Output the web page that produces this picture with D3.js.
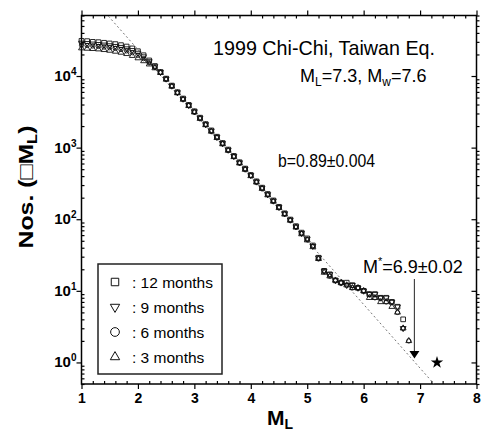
<!DOCTYPE html>
<html>
<head>
<meta charset="utf-8">
<script src="https://cdn.jsdelivr.net/npm/d3@7"></script>
<style>
body { margin: 0; background: #fff; }
svg { display: block; font-family: "Liberation Sans", Arial, sans-serif; }
.axis path, .axis line { stroke: #000; stroke-width: 1.2; }
</style>
</head>
<body>
<div class="gr-plot"></div>
<script>
// magnitude bins (M_L) shared by all catalogues
var magnitudes = [
	1.0, 1.1, 1.2, 1.3, 1.4, 1.5, 1.6, 1.7, 1.8, 1.9,
	2.0, 2.1, 2.2, 2.3, 2.4, 2.5, 2.6, 2.7, 2.8, 2.9,
	3.0, 3.1, 3.2, 3.3, 3.4, 3.5, 3.6, 3.7, 3.8, 3.9,
	4.0, 4.1, 4.2, 4.3, 4.4, 4.5, 4.6, 4.7, 4.8, 4.9,
	5.0, 5.1, 5.2, 5.3, 5.4, 5.5, 5.6, 5.7, 5.8, 5.9,
	6.0, 6.1, 6.2, 6.3, 6.4, 6.5, 6.6, 6.7, 6.8
]

// cumulative numbers N(>=M) for each time window
var months12 = [
	31000, 30700, 30000, 29700, 29100, 28500, 27900, 27000, 25800, 24300,
	22200, 19500, 16500, 13800, 11400, 9200, 7350, 5950, 4850, 3950,
	3220, 2620, 2130, 1740, 1420, 1160, 940, 765, 625, 510,
	415, 338, 276, 225, 183, 149, 121, 99, 80, 65,
	54, 43, 29, 19, 17, 14, 13, 13, 12, 11,
	10, 9, 9, 8, 8, 7, 6, 4
]
var months9 = [
	29000, 28700, 28200, 27800, 27300, 26700, 26100, 25300, 24200, 22900,
	21000, 18700, 16000, 13600, 11300, 9150, 7300, 5900, 4800, 3910,
	3190, 2600, 2110, 1720, 1400, 1150, 930, 758, 618, 505,
	411, 334, 273, 222, 181, 147, 120, 98, 79, 64,
	53, 42, 29, 19, 17, 14, 13, 12, 12, 11,
	10, 9, 9, 8, 8, 7, 6, 3
]
var months6 = [
	27000, 26700, 26300, 25900, 25400, 24900, 24300, 23500, 22500, 21200,
	19500, 17500, 15300, 13200, 11200, 9050, 7220, 5840, 4750, 3870,
	3150, 2570, 2090, 1700, 1390, 1130, 920, 750, 612, 500,
	407, 331, 270, 220, 179, 146, 119, 97, 78, 63,
	52, 42, 28, 19, 16, 14, 13, 12, 11, 11,
	10, 9, 8, 8, 7, 7, 5, 3, 2
]
var months3 = [
	24500, 24200, 24000, 23700, 23200, 22700, 22000, 21300, 20400, 19200,
	17800, 16200, 14600, 12900, 11100, 8950, 7150, 5780, 4700, 3830,
	3120, 2540, 2070, 1680, 1370, 1120, 910, 742, 605, 494,
	402, 328, 267, 217, 177, 144, 117, 96, 77, 62,
	51, 41, 28, 18, 16, 14, 13, 12, 11, 11,
	10, 8, 8, 7, 7, 6, 5, 3, 2
]
var seriesLabels = [': 12 months', ': 9 months', ': 6 months', ': 3 months']

// Gutenberg-Richter fit: log N = a - b M
var fitA = 6.15
var fitB = 0.89
var mStar = 6.9
var mainShock = [7.3, 1]

var xTicks = [1, 2, 3, 4, 5, 6, 7, 8]
var yTicks = [1, 10, 100, 1000, 10000]

window.onload = function() {

var width = 486, height = 433
var left = 81.5, right = 476.5, top = 15.5, bottom = 384

var svg = d3.select('.gr-plot')
	.append('svg')
	.attr('width', width)
	.attr('height', height)

var x = d3.scaleLinear().domain([1, 8]).range([left, right])
var y = d3.scaleLog().domain([0.5, 70000]).range([bottom, top])

// minor ticks
var xMinor = d3.range(1, 8.001, 0.2).filter(function(d) { return Math.abs(d - Math.round(d)) > 0.01 })
var yMinor = []
yTicks.forEach(function(t) {
	for (var k = 2; k <= 9; k++) if (t * k <= 70000) yMinor.push(t * k)
})
yMinor.push(0.5, 0.6, 0.7, 0.8, 0.9)

// bottom axis: majors out, minors in
var xAxis = svg.append('g').attr('class', 'axis').attr('transform', 'translate(0,' + bottom + ')')
	.call(d3.axisBottom(x).tickValues(xTicks).tickSize(5).tickPadding(4).tickFormat(d3.format('d')))
xAxis.select('.domain').remove()
xAxis.selectAll('text')
	.style('font-family', '"Liberation Sans", Arial, sans-serif')
	.style('font-weight', 'bold')
	.style('font-size', '14px')
	.attr('fill', '#000')
svg.append('g').attr('class', 'axis').attr('transform', 'translate(0,' + bottom + ')')
	.call(d3.axisBottom(x).tickValues(xMinor).tickSize(-3).tickFormat(''))
	.select('.domain').remove()
// top axis
svg.append('g').attr('class', 'axis').attr('transform', 'translate(0,' + top + ')')
	.call(d3.axisTop(x).tickValues(xTicks).tickSize(5).tickFormat(''))
	.select('.domain').remove()
svg.append('g').attr('class', 'axis').attr('transform', 'translate(0,' + top + ')')
	.call(d3.axisTop(x).tickValues(xMinor).tickSize(-3).tickFormat(''))
	.select('.domain').remove()
// left axis
svg.append('g').attr('class', 'axis').attr('transform', 'translate(' + left + ',0)')
	.call(d3.axisLeft(y).tickValues(yTicks).tickSize(5).tickFormat(''))
	.select('.domain').remove()
svg.append('g').attr('class', 'axis').attr('transform', 'translate(' + left + ',0)')
	.call(d3.axisLeft(y).tickValues(yMinor).tickSize(-3).tickFormat(''))
	.select('.domain').remove()
// right axis
svg.append('g').attr('class', 'axis').attr('transform', 'translate(' + right + ',0)')
	.call(d3.axisRight(y).tickValues(yTicks).tickSize(-5).tickFormat(''))
	.select('.domain').remove()
svg.append('g').attr('class', 'axis').attr('transform', 'translate(' + right + ',0)')
	.call(d3.axisRight(y).tickValues(yMinor).tickSize(3).tickFormat(''))
	.select('.domain').remove()

// plot frame
svg.append('rect')
	.attr('x', left).attr('y', top)
	.attr('width', right - left).attr('height', bottom - top)
	.attr('fill', 'none').attr('stroke', '#000').attr('stroke-width', 1.5)

// y tick labels 10^n
var ylab = svg.selectAll('.ylab').data(yTicks).enter()
	.append('text')
	.attr('class', 'ylab')
	.attr('x', left - 5)
	.attr('y', function(d) { return y(d) + 5 })
	.attr('text-anchor', 'end')
	.style('font-weight', 'bold')
	.style('font-size', '15px')
ylab.append('tspan').text('10')
ylab.append('tspan').attr('dy', -6).style('font-size', '10px')
	.text(function(d) { return Math.round(Math.log10(d)) })

// axis titles
var xt = svg.append('text')
	.attr('x', 267).attr('y', 425)
	.style('font-weight', 'bold').style('font-size', '21px')
xt.append('tspan').text('M')
xt.append('tspan').attr('dy', 4).style('font-size', '14px').text('L')

var yt = svg.append('text')
	.attr('transform', 'translate(33,187) rotate(-90)')
	.attr('text-anchor', 'middle')
	.attr('textLength', 123).attr('lengthAdjust', 'spacingAndGlyphs')
	.style('font-weight', 'bold').style('font-size', '21px')
yt.append('tspan').text('Nos. (\u25A1M')
yt.append('tspan').attr('dy', 4).style('font-size', '14px').text('L')
yt.append('tspan').attr('dy', -4).text(')')

// fitted line, clipped to the plot area
svg.append('clipPath').attr('id', 'plot-clip')
	.append('rect')
	.attr('x', left).attr('y', top)
	.attr('width', right - left).attr('height', bottom - top)
var fitLine = d3.line()
	.x(function(m) { return x(m) })
	.y(function(m) { return y(Math.pow(10, fitA - fitB * m)) })
svg.append('path')
	.datum([1, 8])
	.attr('clip-path', 'url(#plot-clip)')
	.attr('d', fitLine)
	.attr('fill', 'none')
	.attr('stroke', '#777')
	.attr('stroke-width', 1)
	.attr('stroke-dasharray', '2,2.5')

// data series
var series = [
	{values: months12, shape: d3.symbolSquare, rot: 0, size: 22, legendSize: 56},
	{values: months9, shape: d3.symbolTriangle, rot: 180, size: 15, legendSize: 38},
	{values: months6, shape: d3.symbolCircle, rot: 0, size: 15, legendSize: 60},
	{values: months3, shape: d3.symbolTriangle, rot: 0, size: 15, legendSize: 38}
]

series.forEach(function(s) {
	var pts = s.values.map(function(v, i) { return [magnitudes[i], v] })
	svg.append('g').selectAll('path')
		.data(pts)
		.enter()
		.append('path')
		.attr('transform', function(d) { return 'translate(' + x(d[0]) + ',' + y(d[1]) + ') rotate(' + s.rot + ')' })
		.attr('d', d3.symbol(s.shape, s.size))
		.attr('fill', 'none')
		.attr('stroke', '#111')
		.attr('stroke-width', 0.9)
})

// mainshock star
svg.append('path')
	.attr('transform', 'translate(' + x(mainShock[0]) + ',' + y(mainShock[1]) + ')')
	.attr('d', d3.symbol(d3.symbolStar, 48))
	.attr('fill', '#000')

// M* arrow
var ax = x(mStar)
svg.append('line')
	.attr('x1', ax).attr('x2', ax)
	.attr('y1', 279).attr('y2', 352)
	.attr('stroke', '#444').attr('stroke-width', 1.2)
svg.append('path')
	.attr('d', 'M' + (ax - 5) + ',351 L' + (ax + 5) + ',351 L' + ax + ',358.5 Z')
	.attr('fill', '#000')

// annotations
svg.append('text')
	.attr('x', 213).attr('y', 55)
	.attr('textLength', 222).attr('lengthAdjust', 'spacingAndGlyphs')
	.style('font-size', '21px')
	.text('1999 Chi-Chi, Taiwan Eq.')

var mag = svg.append('text')
	.attr('x', 300).attr('y', 82)
	.style('font-size', '18px')
mag.append('tspan').text('M')
mag.append('tspan').attr('dy', 4).style('font-size', '12px').text('L')
mag.append('tspan').attr('dy', -4).text('=7.3, M')
mag.append('tspan').attr('dy', 4).style('font-size', '12px').text('w')
mag.append('tspan').attr('dy', -4).text('=7.6')

svg.append('text')
	.attr('x', 278).attr('y', 167)
	.attr('textLength', 97).attr('lengthAdjust', 'spacingAndGlyphs')
	.style('font-size', '19px')
	.text('b=0.89\u00B10.004')

var ms = svg.append('text')
	.attr('x', 363).attr('y', 273)
	.style('font-size', '18px')
ms.append('tspan').text('M')
ms.append('tspan').attr('dy', -8).style('font-size', '11px').text('*')
ms.append('tspan').attr('dy', 8).text('=6.9\u00B10.02')

// legend
var lg = svg.append('g').attr('transform', 'translate(98,264)')
lg.append('rect')
	.attr('width', 124).attr('height', 110)
	.attr('fill', '#fff').attr('stroke', '#222').attr('stroke-width', 1.5)
series.forEach(function(s, i) {
	var cy = 18 + i * 25
	lg.append('path')
		.attr('transform', 'translate(17,' + cy + ') rotate(' + s.rot + ')')
		.attr('d', d3.symbol(s.shape, s.legendSize))
		.attr('fill', 'none').attr('stroke', '#111').attr('stroke-width', 1)
	lg.append('text')
		.attr('x', 34).attr('y', cy + 5.5)
		.style('font-size', '15.5px')
		.text(seriesLabels[i])
})

}
</script>
</body>
</html>
